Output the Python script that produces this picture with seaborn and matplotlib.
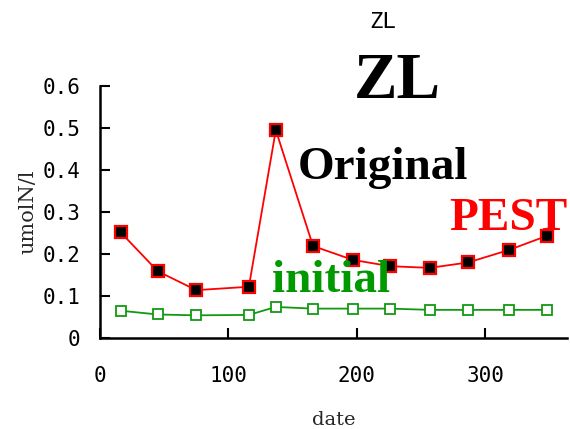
import matplotlib
matplotlib.use("Agg")
import matplotlib.pyplot as plt
import seaborn as sns
import pandas as pd

# sampling days and modelled ZL concentrations
days = [16, 45, 75, 116, 137, 166, 197, 226, 257, 287, 319, 348]
pest = [0.252, 0.159, 0.114, 0.122, 0.495, 0.219, 0.186, 0.171, 0.167, 0.180, 0.210, 0.243]
initial = [0.065, 0.056, 0.054, 0.055, 0.074, 0.070, 0.070, 0.070, 0.067, 0.067, 0.067, 0.067]

df = pd.DataFrame({"date": days, "pest": pest, "initial": initial})

sns.set_style("white")
plt.rcParams["font.family"] = ["DejaVu Sans Mono"]

fig = plt.figure(figsize=(5.7, 4.29), dpi=100)
ax = fig.add_axes([0.1754, 0.2121, 0.8196, 0.5874])

sns.lineplot(data=df, x="date", y="initial", ax=ax, color="#119911",
             linewidth=1.3, marker="s", markersize=7,
             markerfacecolor="white", markeredgecolor="#119911",
             markeredgewidth=1.3)
sns.lineplot(data=df, x="date", y="pest", ax=ax, color="red",
             linewidth=1.3, marker="s", markersize=8,
             markerfacecolor="black", markeredgecolor="red",
             markeredgewidth=1.6)

ax.set_xlim(0, 364)
ax.set_ylim(0, 0.6)
ax.set_xticks([0, 100, 200, 300])
ax.set_yticks([0, 0.1, 0.2, 0.3, 0.4, 0.5, 0.6])
ax.set_yticklabels(["0", "0.1", "0.2", "0.3", "0.4", "0.5", "0.6"])

for side in ("top", "right"):
    ax.spines[side].set_visible(False)
for side in ("left", "bottom"):
    ax.spines[side].set_color("black")
    ax.spines[side].set_linewidth(1.8)

ax.tick_params(axis="both", direction="in", length=7, width=1.5,
               colors="black", labelsize=15)
ax.tick_params(axis="y", pad=14, left=True)
ax.tick_params(axis="x", pad=20, bottom=True)

ax.set_xlabel("date", family="DejaVu Serif", fontsize=14, labelpad=18)
ax.set_ylabel("umolN/l", family="DejaVu Serif", fontsize=15, labelpad=4)

fig.text(0.672, 0.948, "ZL", family="DejaVu Sans Mono", fontsize=16,
         ha="center", va="center", color="black")
fig.text(0.698, 0.810, "ZL", family="Liberation Serif", fontweight="bold",
         fontsize=47, ha="center", va="center", color="black")

ax.text(154, 0.404, "Original", family="Liberation Serif", fontweight="bold",
        fontsize=34, color="black", va="center", ha="left")
ax.text(364, 0.284, "PEST", family="Liberation Serif", fontweight="bold",
        fontsize=34, color="red", va="center", ha="right")
ax.text(134, 0.135, "initial", family="Liberation Serif", fontweight="bold",
        fontsize=34, color="#009900", va="center", ha="left")

fig.savefig("out.png", dpi=100)
